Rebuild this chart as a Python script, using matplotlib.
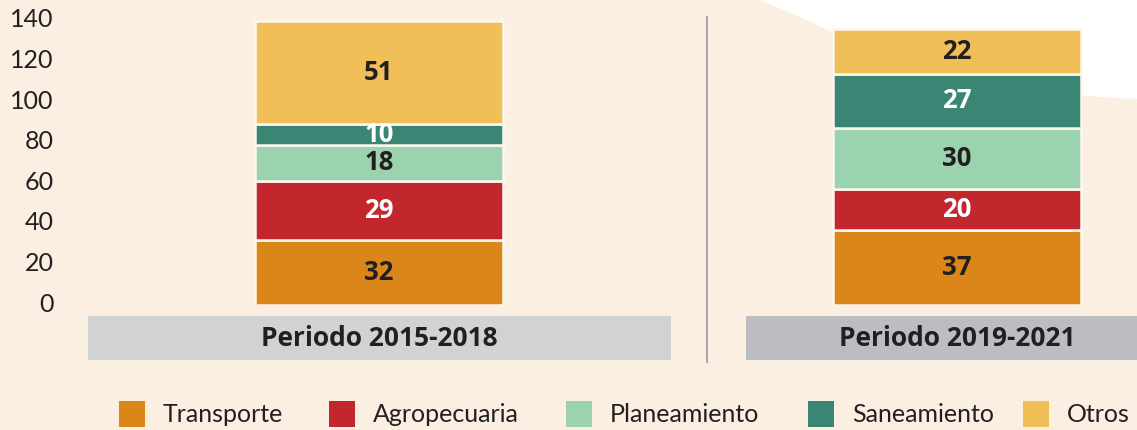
import matplotlib
matplotlib.use("Agg")
import matplotlib.pyplot as plt
import matplotlib.transforms as mtransforms
import numpy as np
from matplotlib.patches import Rectangle, Polygon

### data
periods = ["Periodo 2015-2018", "Periodo 2019-2021"]
sectors = ["Transporte", "Agropecuaria", "Planeamiento", "Saneamiento", "Otros"]
transporte = [32, 37]
agropecuaria = [29, 20]
planeamiento = [18, 30]
saneamiento = [10, 27]
otros = [51, 22]
y_ticks = [0, 20, 40, 60, 80, 100, 120, 140]

### style
colors = ["#DA8619", "#C1272D", "#9AD3AE", "#3B8575", "#F0BF58"]
label_colors = ["#231F20", "white", "#231F20", "white", "#231F20"]
box_colors = ["#D1D2D4", "#BCBDC0"]
bg = "#FBEFE2"
text_c = "#231F20"
plt.rcParams["font.family"] = ["Lato", "DejaVu Sans"]
bold_font = ["Open Sans", "DejaVu Sans"]

W, H = 1137, 430

def fx(px):
    return px / W

def fy(py):
    return 1 - py / H

fig = plt.figure(figsize=(W / 100, H / 100), dpi=100)
fig.patch.set_facecolor(bg)

# white curved shape top right (behind everything)
curve = [(760, 0), (800, 17), (830, 31), (880, 52), (940, 71), (1000, 84), (1060, 93), (1100, 97), (1137, 99), (1137, 0)]
fig.patches.append(Polygon([(fx(x), fy(y)) for x, y in curve], closed=True, transform=fig.transFigure,
                           facecolor="white", edgecolor="none", zorder=-5))

# axes: zero at y=305 px, 2.03 px per unit, bar centres at 379 and 957 px
px_unit = 2.03
left_px = 62
ax = fig.add_axes([fx(left_px), fy(305), 1 - fx(left_px), 305 / H])
ax.set_zorder(2)
ax.set_facecolor("none")
ax.set_ylim(0, 305 / px_unit)
ax.set_xlim((left_px - 379) / 578, (W - 379) / 578)
for s in ax.spines.values():
    s.set_visible(False)
ax.set_xticks([])
ax.set_yticks(y_ticks)
ax.tick_params(axis="y", length=0, pad=6, labelsize=18, labelcolor=text_c)
shift = mtransforms.ScaledTranslation(0, 3 / 100, fig.dpi_scale_trans)
for t in ax.get_yticklabels():
    t.set_transform(t.get_transform() + shift)

x = np.arange(len(periods))
series = [transporte, agropecuaria, planeamiento, saneamiento, otros]
bottom = np.zeros(len(periods))
for vals, c, lc, name in zip(series, colors, label_colors, sectors):
    ax.bar(x, vals, width=248 / 578, bottom=bottom, color=c, edgecolor="#FDF6EE", linewidth=1.8, label=name)
    for xi, v, b in zip(x, vals, bottom):
        ax.text(xi, b + v / 2, str(v), ha="center", va="center", fontsize=18.5, fontweight="bold",
                color=lc, family=bold_font)
    bottom = bottom + np.array(vals)

# period boxes below the bars
for i, (p, bc) in enumerate(zip(periods, box_colors)):
    cx = 379 + 578 * i
    x0 = 88 if i == 0 else 746
    x1 = 671 if i == 0 else W
    fig.patches.append(Rectangle((fx(x0), fy(360)), fx(x1) - fx(x0), fy(316) - fy(360),
                                 transform=fig.transFigure, facecolor=bc, edgecolor="none"))
    fig.text(fx(cx), fy(339), p, ha="center", va="center", fontsize=19, fontweight="bold",
             color=text_c, family=bold_font)

# separator
fig.lines.append(plt.Line2D([fx(707), fx(707)], [fy(17), fy(362)], transform=fig.transFigure,
                            color="#AAAAAA", linewidth=1.5))

# legend
leg_x = [119, 329, 566, 808, 1023]
for lx, c, name in zip(leg_x, colors, sectors):
    fig.patches.append(Rectangle((fx(lx), fy(427)), fx(26), 26 / H, transform=fig.transFigure,
                                 facecolor=c, edgecolor="none"))
    fig.text(fx(lx + 44), fy(414), name, ha="left", va="center", fontsize=18, color=text_c)

fig.savefig("out.png", dpi=100, facecolor=bg)
